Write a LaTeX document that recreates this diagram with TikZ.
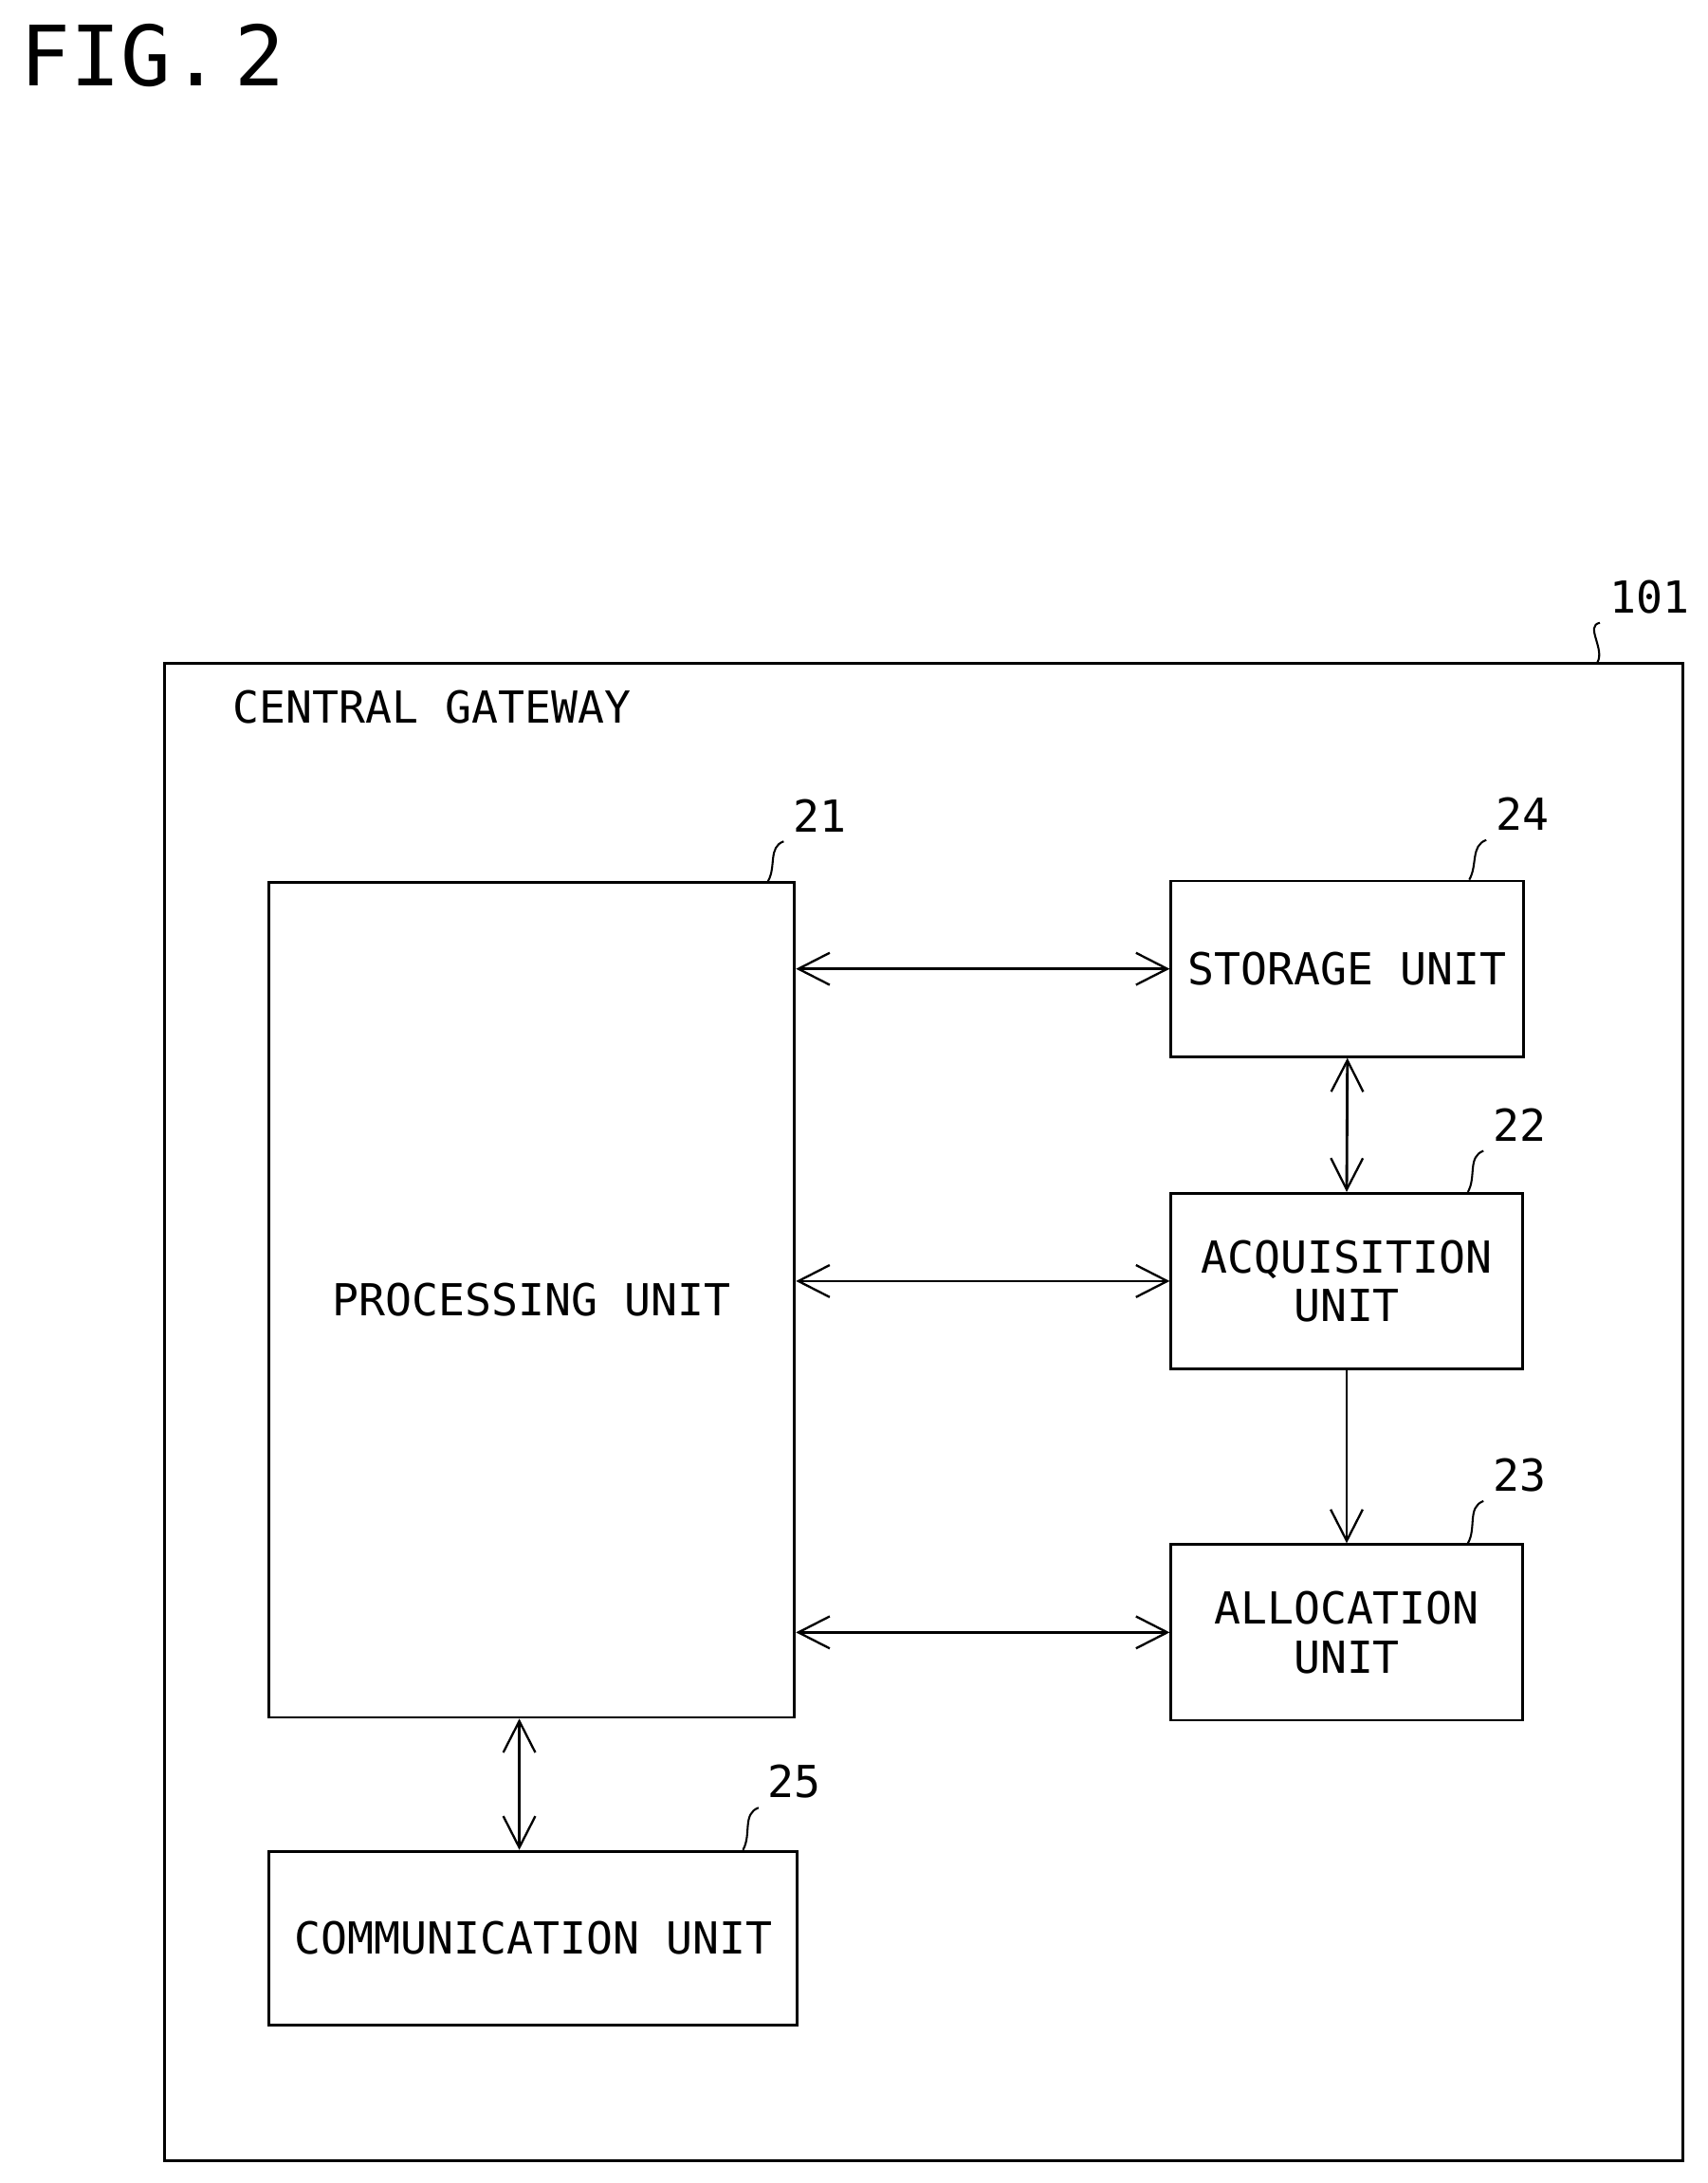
\documentclass[tikz,border=0pt]{standalone}
\usepackage{fontspec}
\setmainfont{DejaVu Sans Mono}
\usetikzlibrary{arrows.meta,positioning}

\begin{document}
\begin{tikzpicture}[x=0.02cm, y=-0.02cm, line width=1.1pt,
  >={Straight Barb[length=4.5mm,width=4.6mm,line width=0.9pt]},
  unit/.style={draw, rectangle, align=center, inner sep=0pt, font=\fontsize{18}{20}\selectfont},
  refnum/.style={font=\fontsize{18}{20}\selectfont},
  lead/.style={line width=0.8pt}]
\useasboundingbox (0,0) rectangle (1225,1566);
% --- title ---
\node[font=\fontsize{34}{36}\selectfont, anchor=west] (fig) at (8,40) {FIG.\,2};
% --- gateway frame ---
\node[draw, rectangle, minimum width=21.78cm, minimum height=21.48cm] (gw) at (662.5,1013) {};
\node[font=\fontsize{18}{20}\selectfont, anchor=west] (gwname) at (160,507) {CENTRAL GATEWAY};
\node[refnum] (n101) at (1183,428) {101};
\draw[lead] (gw.north east) ++(-62,0) to[out=60,in=190] (n101.south west);
% --- units ---
\node[unit, minimum width=7.54cm, minimum height=11.98cm] (proc) at (381.5,932.5) {PROCESSING UNIT};
\node[unit, minimum width=5.06cm, minimum height=2.52cm] (stor) at (966.5,695) {STORAGE UNIT};
\node[unit, minimum width=5.04cm, minimum height=2.52cm] (acq) at (966,919) {ACQUISITION\\UNIT};
\node[unit, minimum width=5.04cm, minimum height=2.52cm] (alloc) at (966,1171) {ALLOCATION\\UNIT};
\node[unit, minimum width=7.58cm, minimum height=2.5cm] (comm) at (382.5,1390.5) {COMMUNICATION UNIT};
% --- reference numerals ---
\node[refnum] (n21) at (588,585) {21};
\node[refnum] (n24) at (1092,584) {24};
\node[refnum] (n22) at (1090,807) {22};
\node[refnum] (n23) at (1090,1058) {23};
\node[refnum] (n25) at (570,1278) {25};
\draw[lead] (proc.north east) ++(-20,0) to[out=60,in=200] (n21.south west);
\draw[lead] (stor.north east) ++(-40,0) to[out=60,in=200] (n24.south west);
\draw[lead] (acq.north east) ++(-40,0) to[out=60,in=200] (n22.south west);
\draw[lead] (alloc.north east) ++(-40,0) to[out=60,in=200] (n23.south west);
\draw[lead] (comm.north east) ++(-40,0) to[out=60,in=200] (n25.south west);
% --- connectors ---
\draw[<->] (proc.east |- stor) -- (stor.west);
\draw[<->] (proc.east |- acq) -- (acq.west);
\draw[<->] (proc.east |- alloc) -- (alloc.west);
\draw[<->] (stor.south) -- (acq.north);
\draw[->] (acq.south) -- (alloc.north);
\draw[<->] ([xshift=-9*0.02cm]proc.south) -- ([xshift=-10*0.02cm]comm.north);
\end{tikzpicture}
\end{document}
